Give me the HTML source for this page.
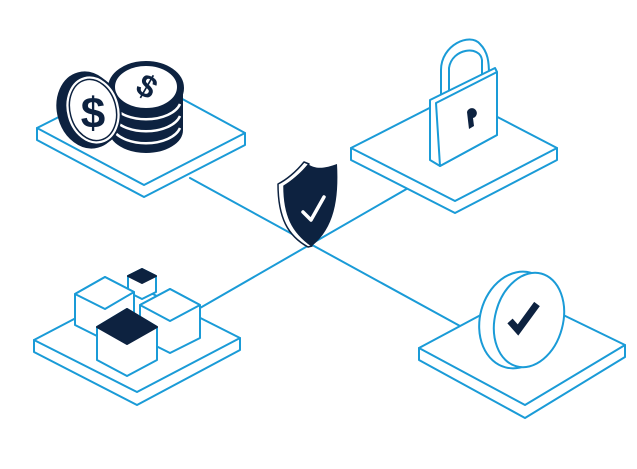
<!DOCTYPE html>
<html><head><meta charset="utf-8"><style>html,body{margin:0;padding:0;background:#fff}svg{display:block}</style></head><body>
<svg width="637" height="469" viewBox="0 0 637 469" xmlns="http://www.w3.org/2000/svg">
<g stroke="#1a9bd7" stroke-width="2" fill="none" stroke-linejoin="round" stroke-linecap="round">
<line x1="190" y1="178" x2="460" y2="326"/>
<line x1="200" y1="308" x2="410" y2="187"/>
</g>
<g stroke="#1a9bd7" stroke-width="2" fill="#fff" stroke-linejoin="round">
<path d="M37 128 L37 140 L144 197 L245 145 L245 133 Z"/>
<path d="M37 128 L140 76 L245 133 L144 185 Z"/>
<path d="M351 148 L351 160 L455 213 L557 160 L557 148 Z"/>
<path d="M351 148 L455 95 L557 148 L455 201 Z"/>
<path d="M34 340 L34 352 L137 405 L240 350 L240 338 Z"/>
<path d="M34 340 L137 286 L240 338 L137 392 Z"/>
<path d="M419 348 L419 360 L525 418 L625 357 L625 345 Z"/>
<path d="M419 348 L520 294 L625 345 L525 405 Z"/>
</g>
<g stroke="#0d2240" stroke-width="2">
<path d="M110 90 L110 130 A36 22 0 0 0 182 130 L182 90 Z" fill="#0d2240"/>
<g fill="none" stroke="#fff" stroke-width="2.5"><path d="M112 104 A35 20 0 0 0 180 104"/><path d="M112 116 A35 20 0 0 0 180 116"/><path d="M112 128 A35 20 0 0 0 180 128"/></g>
<ellipse cx="146" cy="88" rx="37" ry="26" fill="#0d2240"/>
<ellipse cx="146" cy="87" rx="32" ry="22" fill="#fff"/>
<ellipse cx="88" cy="110" rx="30" ry="38" transform="rotate(-15 88 110)" fill="#0d2240"/>
<ellipse cx="93" cy="110" rx="27" ry="35" transform="rotate(-15 93 110)" fill="#fff"/>
<ellipse cx="93" cy="110" rx="23" ry="31" transform="rotate(-15 93 110)" fill="none" stroke-width="1.5"/>
</g>
<text x="93" y="128" font-family="Liberation Sans, sans-serif" font-weight="bold" font-size="44" fill="#0d2240" text-anchor="middle">$</text>
<text x="146" y="97" font-family="Liberation Sans, sans-serif" font-weight="bold" font-size="32" fill="#0d2240" text-anchor="middle" transform="rotate(30 146 88)">$</text>
<g stroke="#1a9bd7" stroke-width="2" fill="#fff" stroke-linejoin="round">
<path d="M441 98 L441 70 C441 45 470 32 480 44 C488 52 489 62 489 75 L482 78 L482 60 C480 45 452 48 449 68 L449 96 Z"/>
<path d="M430 100 L495 68 L497 72 L497 135 L440 166 L430 160 Z"/>
<path d="M436 103 L497 72 L497 135 L440 166 Z"/>
</g>
<path d="M467 112 a5 5 0 1 1 6 6 l1 8 l-5 3 z" fill="#0d2240"/>
<g stroke="#1a9bd7" stroke-width="2" fill="#fff">
<ellipse cx="518" cy="320" rx="38" ry="49" transform="rotate(15 518 320)"/>
<ellipse cx="529" cy="320" rx="34" ry="48" transform="rotate(15 529 320)"/>
</g>
<path d="M510 321 L518 330 L537 304" stroke="#0d2240" stroke-width="7" fill="none"/>
<g stroke="#1a9bd7" stroke-width="2" fill="#fff" stroke-linejoin="round">
<path d="M128 276 L142 269 L156 276 L156 292 L142 299 L128 292 Z"/>
<path d="M128 276 L142 269 L156 276 L142 283 Z" fill="#0d2240" stroke="#0d2240"/>
<path d="M75 294 L105 277 L134 292 L134 325 L105 340 L75 325 Z"/>
<path d="M75 294 L105 277 L134 292 L105 309 Z"/>
<path d="M140 305 L170 289 L200 305 L200 338 L170 353 L140 338 Z"/>
<path d="M140 305 L170 289 L200 305 L170 321 Z"/>
<path d="M97 327 L127 309 L157 327 L157 360 L127 376 L97 360 Z"/>
<path d="M97 327 L127 309 L157 327 L127 344 Z" fill="#0d2240" stroke="#0d2240"/>
</g>
<!-- shield -->
<path d="M278 184 C286 180 296 172 304 162 L309 164 C301 174 291 182 284 186 C284 215 292 232 312 246 L308 247 C288 236 278 218 278 184 Z" fill="#fff" stroke="#0d2240" stroke-width="1.5" stroke-linejoin="round"/>
<path d="M284 186 C292 180 302 172 308 164 C316 170 326 168 337 164 C339 200 334 228 312 246 C292 232 284 215 284 186 Z" fill="#0d2240"/>
<path d="M303 212 L311 220 L324 197" stroke="#fff" stroke-width="3.5" fill="none" stroke-linecap="round" stroke-linejoin="round"/>
</svg>
</body></html>
